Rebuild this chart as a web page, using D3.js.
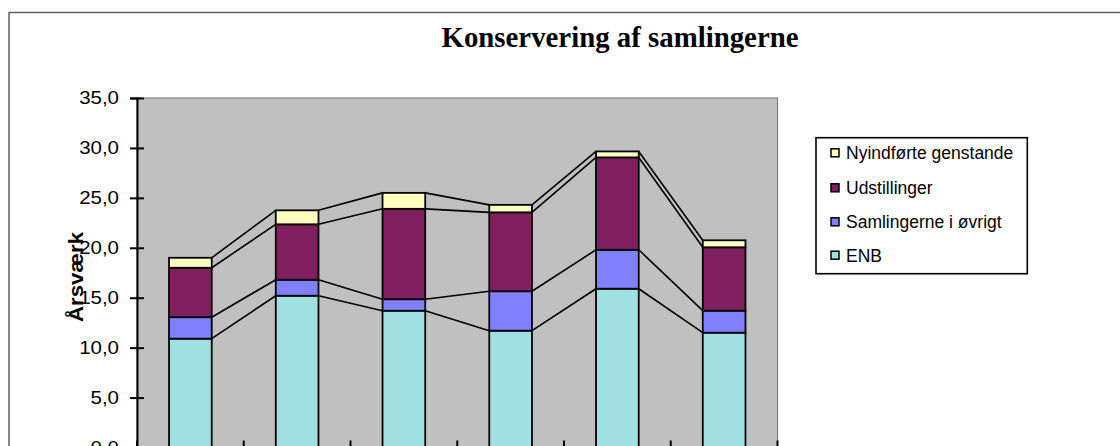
<!DOCTYPE html>
<html><head><meta charset="utf-8">
<script src="https://cdn.jsdelivr.net/npm/d3@7"></script>
<style>body{margin:0;background:#fff;} svg{display:block;}</style>
</head><body>
<svg id="c" width="1120" height="446"></svg>
<script>
const categories = ["1","2","3","4","5","6"];
const seriesNames = ["ENB","Samlingerne i øvrigt","Udstillinger","Nyindførte genstande"];
const enb = [10.9, 15.2, 13.7, 11.7, 15.9, 11.5];
const samlinger = [2.15, 1.6, 1.15, 3.95, 3.9, 2.2];
const udstillinger = [4.95, 5.55, 9.05, 7.9, 9.25, 6.35];
const nyindforte = [1.0, 1.4, 1.6, 0.75, 0.6, 0.7];
const yTicks = [0,5,10,15,20,25,30,35];
const colors = ["#A0E0E0","#8080FF","#802060","#FFFFC0"];

const svg = d3.select("#c");
// outer chart border
svg.append("rect").attr("x",9).attr("y",12.5).attr("width",1200).attr("height",500)
  .attr("fill","#fff").attr("stroke","#606060").attr("stroke-width",1.5);

const plot = {l:137, r:777.5, t:98, b:447.5};
const x = d3.scaleBand().domain(categories).range([plot.l, plot.r]).paddingInner(0.6).paddingOuter(0.3);
const y = d3.scaleLinear().domain([0,35]).range([plot.b, plot.t]);

svg.append("rect").attr("x",plot.l).attr("y",plot.t).attr("width",plot.r-plot.l).attr("height",plot.b-plot.t)
  .attr("fill","#C0C0C0").attr("stroke","#808080").attr("stroke-width",1.2);

const table = categories.map((c,i)=>({cat:c, ENB:enb[i], "Samlingerne i øvrigt":samlinger[i], "Udstillinger":udstillinger[i], "Nyindførte genstande":nyindforte[i]}));
const stacked = d3.stack().keys(seriesNames)(table);

// connector lines
stacked.forEach(s=>{
  for(let i=0;i<categories.length-1;i++){
    svg.append("line")
      .attr("x1", x(categories[i])+x.bandwidth()).attr("y1", y(s[i][1]))
      .attr("x2", x(categories[i+1])).attr("y2", y(s[i+1][1]))
      .attr("stroke","#000").attr("stroke-width",1.6);
  }
});

// bars
stacked.forEach((s,k)=>{
  svg.append("g").selectAll("rect").data(s).join("rect")
    .attr("x",(d,i)=>x(categories[i])).attr("width",x.bandwidth())
    .attr("y",d=>y(d[1])).attr("height",d=>y(d[0])-y(d[1]))
    .attr("fill",colors[k]).attr("stroke","#000").attr("stroke-width",1.8);
});

// y axis
const ya = svg.append("g").attr("transform",`translate(${plot.l},0)`)
  .call(d3.axisLeft(y).tickValues(yTicks).tickSize(7).tickPadding(11).tickFormat(d=>d3.format(".1f")(d).replace(".",",")));
ya.select(".domain").attr("stroke","#000").attr("stroke-width",2);
ya.selectAll(".tick line").attr("x1",7).attr("stroke","#000").attr("stroke-width",2);
ya.selectAll(".tick text").attr("font-family","Liberation Sans, Arial, sans-serif").attr("font-size",17.5).attr("fill","#000")
  .each(function(){ const L=this.getComputedTextLength(); d3.select(this).attr("textLength",L*1.17).attr("lengthAdjust","spacingAndGlyphs"); });

// x axis (category labels fall outside the visible area)
const xa = svg.append("g").attr("transform",`translate(0,${plot.b})`);
xa.append("line").attr("x1",plot.l).attr("x2",plot.r).attr("stroke","#000").attr("stroke-width",2);
const step = x.step();
d3.range(categories.length+1).forEach(i=>{
  const xx = plot.l + i*step;
  xa.append("line").attr("x1",xx).attr("x2",xx).attr("y1",-7).attr("y2",7).attr("stroke","#000").attr("stroke-width",2);
});

// y title
svg.append("text").attr("transform","translate(83,277) rotate(-90)").attr("text-anchor","middle")
  .attr("font-family","Liberation Sans, Arial, sans-serif").attr("font-weight","bold").attr("font-size",21)
  .attr("textLength",90).attr("lengthAdjust","spacingAndGlyphs").text("Årsværk");

// title
svg.append("text").attr("x",620).attr("y",47).attr("text-anchor","middle")
  .attr("font-family","Liberation Serif, Times New Roman, serif").attr("font-weight","bold").attr("font-size",28.5)
  .attr("textLength",357).attr("lengthAdjust","spacingAndGlyphs").text("Konservering af samlingerne");

// legend
const lg = svg.append("g");
lg.append("rect").attr("x",816).attr("y",137.7).attr("width",211.3).attr("height",136).attr("fill","#fff").attr("stroke","#000").attr("stroke-width",1.6);
const legOrder = [3,2,1,0];
const legY = [153.3,188.3,222.3,255.7];
legOrder.forEach((k,j)=>{
  lg.append("rect").attr("x",831).attr("y",legY[j]-4.5).attr("width",8).attr("height",8)
    .attr("fill",colors[k]).attr("stroke","#000").attr("stroke-width",1.5);
  lg.append("text").attr("x",846).attr("y",legY[j]).attr("dy","0.35em")
    .attr("font-family","Liberation Sans, Arial, sans-serif").attr("font-size",17.5).text(seriesNames[k]);
});
</script>
</body></html>
